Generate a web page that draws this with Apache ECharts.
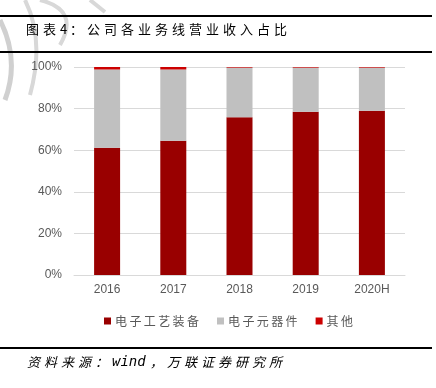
<!DOCTYPE html>
<html><head><meta charset="utf-8">
<script src="https://cdn.jsdelivr.net/npm/echarts@6/dist/echarts.min.js"></script>
<style>html,body{margin:0;padding:0;background:#fff}#c{width:436px;height:388px}</style>
</head><body><div id="c"></div>
<script>
const categories = ['2016','2017','2018','2019','2020H'];
const equipment = [61.2, 64.5, 75.8, 78.5, 79.0];
const components = [37.6, 34.3, 23.9, 21.2, 20.7];
const others = [1.2, 1.2, 0.3, 0.3, 0.3];
const yTicks = [0,20,40,60,80,100];
const titleText = '图表4：公司各业务线营业收入占比';
const sourceText = '资料来源：wind，万联证券研究所';

function spacedText(str, x0, yTop, size, cjkAdv, latinAdv, style, latinFont) {
  const tokens = str.match(/[\u0000-\u00ff]+|[^\u0000-\u00ff]/g);
  const els = [];
  let x = x0;
  for (const t of tokens) {
    const isLatin = /[\u0000-\u00ff]/.test(t);
    const st = Object.assign({text:t, fontSize:size, fill:'#000', fontFamily:'Noto Sans CJK SC'}, style||{});
    if (isLatin && latinFont) { st.fontFamily = latinFont; st.fontSize = size + 1; }
    els.push({type:'text', x:x, y:isLatin && latinFont ? yTop - 1 : yTop, style:st});
    x += isLatin ? latinAdv * t.length : cjkAdv;
  }
  return els;
}

const chart = echarts.init(document.getElementById('c'));
chart.setOption({
  animation:false,
  grid:{left:74,right:31,top:67,bottom:113},
  xAxis:{type:'category',data:categories,
    axisLine:{lineStyle:{color:'#d9d9d9',width:1}},axisTick:{show:false},
    axisLabel:{color:'#595959',fontSize:12,fontFamily:'Liberation Sans, Arial',margin:9}},
  yAxis:{type:'value',min:yTicks[0],max:yTicks[yTicks.length-1],interval:20,
    axisLabel:{color:'#595959',fontSize:12,fontFamily:'Liberation Sans, Arial',formatter:v=>v+'%',margin:12},
    splitLine:{lineStyle:{color:'#d9d9d9'}},axisLine:{show:false},axisTick:{show:false}},
  legend:{top:315,left:104,padding:0,itemWidth:7,itemHeight:7,itemGap:18,icon:'rect',
    formatter:n=>Array.from(n).join('\u2009'),
    textStyle:{color:'#595959',fontSize:12,fontFamily:'Noto Sans CJK SC',padding:[0,0,0,-1]},
    data:['电子工艺装备','电子元器件','其他']},
  series:[
    {name:'电子工艺装备',type:'bar',stack:'a',data:equipment,barWidth:26,itemStyle:{color:'#990000'}},
    {name:'电子元器件',type:'bar',stack:'a',data:components,itemStyle:{color:'#c0c0c0'}},
    {name:'其他',type:'bar',stack:'a',data:others,itemStyle:{color:'#cc0000'}}
  ],
  graphic:[
    {type:'bezierCurve',shape:{x1:0,y1:20,cpx1:20,cpy1:60,x2:5,y2:100},style:{stroke:'#d0d0d0',lineWidth:5,fill:null},z:-1},
    {type:'bezierCurve',shape:{x1:25,y1:0,cpx1:45,cpy1:40,x2:30,y2:95},style:{stroke:'#d8d8d8',lineWidth:4,fill:null},z:-1},
    {type:'bezierCurve',shape:{x1:40,y1:0,cpx1:80,cpy1:10,x2:60,y2:45},style:{stroke:'#d8d8d8',lineWidth:4,fill:null},z:-1},
    {type:'line',shape:{x1:90,y1:0,x2:105,y2:12},style:{stroke:'#d8d8d8',lineWidth:4},z:-1},
    {type:'line',shape:{x1:0,y1:16,x2:432,y2:16},style:{stroke:'#000',lineWidth:2}},
    {type:'line',shape:{x1:0,y1:52,x2:432,y2:52},style:{stroke:'#000',lineWidth:2}},
    {type:'group',children:spacedText(titleText, 26, 23, 13, 17, 10, {})},
    {type:'line',shape:{x1:0,y1:348,x2:432,y2:348},style:{stroke:'#000',lineWidth:2}},
    {type:'group',children:spacedText(sourceText, 27, 356, 13, 17, 9.5, {fontStyle:'italic'}, 'DejaVu Sans Mono')}
  ]
});
</script></body></html>
